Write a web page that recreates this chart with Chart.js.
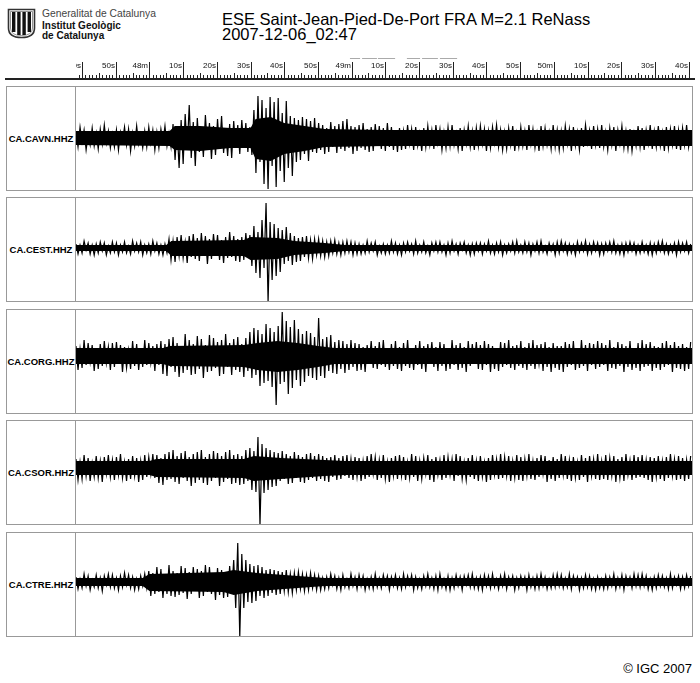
<!DOCTYPE html>
<html lang="ca">
<head>
<meta charset="UTF-8">
<title>ESE Saint-Jean-Pied-De-Port FRA M=2.1 ReNass</title>
<script src="https://cdn.jsdelivr.net/npm/chart.js"></script>
<style>
  body { margin:0; width:700px; height:683px; background:#fff; position:relative; overflow:hidden;
         font-family:"Liberation Sans", Arial, sans-serif; }
  .abs { position:absolute; white-space:nowrap; }
  .panel { position:absolute; left:6px; width:687px; height:105px; box-sizing:border-box; border:1px solid #999; }
  .lbl { position:absolute; left:0; top:0; width:69px; height:103px; box-sizing:border-box; border-right:1px solid #999;
         display:flex; align-items:center; justify-content:center; font-size:9.5px; font-weight:bold; }
  canvas { position:absolute; }
</style>
</head>
<body>
<script>
// seconds after 02:47:00
const timeMin = 38.2, timeMax = 221;

// ruler ticks (every 10 s) and their labels
const rulerTicks  = [40, 50, 60, 70, 80, 90, 100, 110, 120, 130, 140, 150, 160, 170, 180, 190, 200, 210, 220];
const rulerLabels = ['40s','50s','48m','10s','20s','30s','40s','50s','49m','10s','20s','30s','40s','50s','50m','10s','20s','30s','40s'];
// small grey marks above the ruler [from, to]
const pickMarks = [[119.5,122.5],[123.1,127.5],[127.8,132.9],[136.4,140.3],[140.9,145.6],[146.2,151.3]];

const stationNames = ['CA.CAVN.HHZ','CA.CEST.HHZ','CA.CORG.HHZ','CA.CSOR.HHZ','CA.CTRE.HHZ'];

// traces: one sample every 0.6 s from timeMin
const waveStep = 0.6;
const cavnWave = [
  6,-9,11,-4,8,-12,3,-7,10,-8,5,-11,9,-6,13,-5,7,-10,4,-9,
  8,-12,6,-3,11,-7,9,-13,5,-8,12,-6,4,-10,7,-9,11,-5,8,-12,
  6,-10,9,-4,12,-8,5,-9,14,-22,10,-30,18,-26,24,-12,33,-20,16,-28,
  20,-14,11,-19,23,-9,15,-21,12,-17,19,-11,22,-15,9,-18,14,-20,17,-10,
  13,-16,18,-9,15,-14,11,-17,28,-35,42,-24,38,-46,30,-51,41,-28,36,-49,
  40,-33,25,-44,37,-30,22,-38,20,-24,18,-22,21,-16,19,-23,17,-14,20,-15,
  15,-12,13,-16,10,-14,16,-9,12,-15,14,-11,17,-13,19,-10,12,-16,11,-13,
  13,-10,15,-12,9,-14,11,-13,14,-8,12,-11,10,-13,15,-9,11,-12,8,-14,
  10,-12,7,-11,13,-6,9,-12,11,-8,5,-13,10,-9,12,-7,8,-11,13,-5,
  9,-12,6,-10,11,-8,13,-7,5,-11,10,-13,8,-6,12,-9,7,-12,10,-8,
  12,-6,9,-13,7,-10,11,-5,13,-9,8,-12,6,-11,10,-7,12,-13,5,-9,
  11,-8,7,-12,13,-6,9,-10,5,-13,12,-8,10,-7,6,-11,13,-9,8,-12,
  7,-10,12,-6,9,-13,11,-8,6,-12,10,-9,13,-5,8,-11,12,-7,9,-10,
  13,-9,6,-12,10,-7,11,-13,8,-6,12,-10,7,-11,9,-13,5,-8,12,-9,
  10,-12,8,-6,13,-11,7,-9,12,-8,6,-13,11,-10,9,-7,12,-11,8,-12,
  10,-7,13,-9,6];
const cestWave = [
  4,-6,3,-5,7,-2,5,-6,3,-7,4,-5,6,-3,5,-7,2,-5,6,-4,
  5,-7,3,-4,6,-5,2,-6,7,-3,5,-4,6,-7,3,-5,4,-6,7,-3,
  5,-6,3,-7,4,-5,9,-12,7,-14,11,-8,13,-10,6,-15,12,-9,14,-11,
  10,-13,15,-8,12,-16,9,-11,14,-7,13,-12,8,-15,11,-10,16,-9,12,-13,
  9,-14,11,-12,15,-8,13,-18,22,-25,16,-30,28,-20,45,-54,26,-32,24,-28,
  20,-24,18,-16,21,-13,15,-17,12,-14,10,-13,11,-9,12,-10,8,-11,9,-7,
  9,-8,7,-9,6,-8,7,-5,8,-6,5,-7,6,-5,7,-4,6,-7,5,-6,
  4,-6,3,-5,7,-4,5,-3,6,-7,2,-5,4,-6,3,-5,7,-4,5,-6,
  3,-7,5,-4,6,-3,4,-6,7,-5,3,-4,6,-5,2,-7,5,-3,6,-4,
  6,-4,3,-7,5,-5,7,-3,4,-6,5,-2,6,-5,3,-7,4,-6,5,-3,
  5,-6,4,-3,7,-5,3,-6,5,-4,6,-7,3,-5,4,-3,6,-5,7,-4,
  3,-5,6,-4,5,-7,4,-3,6,-5,7,-4,2,-6,5,-3,4,-7,6,-5,
  7,-3,5,-6,4,-5,3,-7,6,-4,5,-3,7,-6,4,-5,6,-3,5,-7,
  4,-6,5,-3,6,-4,7,-5,3,-6,4,-7,5,-4,6,-3,5,-6,3,-5,
  6,-4,3,-6,5,-7,4,-5,6,-3,7,-5,4,-6,3,-4,5,-7,6,-4,
  5,-3,6,-5,4];
const corgWave = [
  10,-14,7,-12,16,-9,13,-6,11,-15,8,-13,12,-10,15,-7,9,-14,13,-11,
  14,-8,11,-16,9,-12,6,-13,15,-10,12,-14,8,-11,16,-9,13,-7,10,-15,
  12,-9,15,-18,12,-20,17,-11,19,-16,13,-21,10,-17,22,-14,16,-19,12,-18,
  20,-13,17,-22,11,-16,21,-15,18,-12,14,-20,16,-18,22,-11,13,-19,17,-14,
  19,-16,12,-21,18,-15,24,-22,28,-19,26,-30,22,-27,32,-25,28,-31,24,-49,
  30,-28,44,-26,35,-38,29,-32,36,-24,27,-30,22,-26,25,-20,23,-22,19,-24,
  38,-20,17,-22,19,-15,21,-17,14,-18,16,-13,15,-17,12,-14,16,-11,13,-15,
  12,-14,9,-16,11,-8,15,-12,10,-13,14,-9,16,-11,8,-14,12,-10,15,-13,
  9,-15,13,-10,16,-12,8,-14,11,-9,15,-13,10,-16,12,-8,14,-11,9,-15,
  14,-10,12,-15,8,-13,16,-9,11,-14,13,-12,9,-16,15,-10,12,-8,14,-13,
  11,-14,15,-9,12,-16,10,-13,8,-15,14,-11,13,-9,16,-12,10,-14,11,-10,
  15,-12,9,-14,13,-10,16,-13,11,-8,12,-15,14,-11,9,-16,13,-12,10,-14,
  10,-16,14,-11,12,-9,15,-14,8,-12,16,-10,11,-15,13,-9,12,-13,15,-11,
  13,-9,11,-15,16,-12,9,-13,14,-10,12,-16,10,-11,15,-14,8,-12,13,-15,
  16,-11,12,-10,14,-15,10,-12,9,-14,13,-11,15,-9,11,-16,14,-12,10,-13,
  12,-15,9,-13,14];
const csorWave = [
  9,-12,6,-11,13,-8,10,-13,5,-9,12,-10,7,-14,11,-6,13,-9,8,-12,
  11,-7,14,-10,6,-13,9,-11,12,-8,10,-14,7,-12,13,-9,11,-6,14,-10,
  13,-15,10,-17,14,-12,16,-11,18,-14,12,-16,15,-10,17,-13,11,-18,14,-15,
  16,-12,18,-15,11,-17,14,-13,17,-10,15,-18,12,-14,16,-11,18,-16,13,-15,
  14,-17,12,-16,18,-13,20,-22,17,-24,31,-57,24,-25,20,-22,18,-19,16,-18,
  15,-13,17,-11,14,-16,12,-15,16,-10,13,-14,11,-15,14,-12,15,-10,12,-13,
  14,-11,12,-13,10,-14,11,-9,13,-12,10,-11,12,-8,13,-10,9,-12,11,-9,
  10,-13,7,-11,12,-9,14,-6,11,-12,8,-10,13,-11,6,-14,10,-8,12,-11,
  13,-8,11,-12,6,-10,14,-9,12,-13,7,-11,10,-6,13,-12,9,-14,11,-7,
  8,-12,13,-10,11,-7,9,-13,14,-8,12,-11,6,-12,10,-9,13,-11,7,-13,
  12,-9,6,-14,10,-12,13,-7,9,-11,14,-10,11,-8,12,-13,7,-10,13,-12,
  11,-13,9,-8,14,-11,7,-12,10,-9,13,-6,12,-14,8,-11,11,-13,9,-10,
  14,-7,12,-11,8,-13,11,-10,6,-12,13,-9,10,-14,12,-8,9,-11,14,-12,
  7,-11,13,-12,10,-8,12,-14,9,-10,11,-13,14,-7,8,-12,13,-10,11,-9,
  13,-10,8,-12,11,-14,10,-9,12,-11,7,-13,11,-10,14,-8,9,-12,12,-11,
  10,-13,8,-11,12];
const ctreWave = [
  5,-7,3,-6,8,-4,6,-8,2,-5,7,-6,4,-9,6,-3,8,-5,7,-6,
  4,-8,6,-5,9,-3,7,-6,5,-8,3,-7,6,-4,8,-6,11,-14,9,-12,
  15,-10,13,-16,8,-12,17,-14,11,-15,9,-13,16,-11,14,-17,10,-12,15,-9,
  13,-16,11,-14,17,-10,15,-12,9,-18,14,-13,12,-16,10,-15,16,-11,22,-26,
  39,-55,28,-26,22,-20,18,-21,16,-19,17,-14,15,-16,12,-14,13,-11,12,-13,
  11,-12,10,-9,12,-10,8,-11,9,-8,10,-7,8,-9,7,-8,9,-6,7,-8,
  6,-8,4,-7,5,-6,8,-3,6,-7,4,-8,7,-5,3,-6,8,-4,5,-7,
  7,-4,6,-8,3,-6,5,-7,8,-5,4,-6,7,-3,6,-8,5,-4,7,-6,
  4,-7,8,-5,6,-3,7,-8,5,-6,3,-7,6,-4,8,-5,4,-7,6,-8,
  8,-5,3,-7,6,-8,4,-6,7,-4,5,-8,6,-3,7,-5,8,-6,4,-7,
  5,-8,7,-4,6,-6,8,-5,3,-7,6,-4,8,-7,5,-3,6,-8,4,-6,
  6,-3,5,-8,7,-5,4,-7,6,-6,8,-4,5,-7,3,-6,7,-5,8,-4,
  7,-6,4,-5,8,-7,6,-3,5,-8,4,-6,7,-5,6,-7,3,-8,5,-6,
  3,-7,6,-6,5,-4,8,-7,4,-5,7,-8,6,-3,5,-6,8,-4,7,-5,
  8,-4,6,-7,3,-8,5,-6,7,-4,6,-5,4,-7,8,-6,5,-3,6,-7,
  5,-6,7,-4,6];

// dense core of each trace (upper / lower envelope)
const cavnEnvT   = [38.2, 66, 67.5, 75, 84, 90, 91.5, 96, 100, 106, 112, 130, 221];
const cavnEnvTop = [7, 7, 12, 12, 10, 10, 19, 21, 15, 12, 9, 8, 8];
const cavnEnvBot = [-7, -8, -12, -13, -10, -10, -21, -23, -16, -13, -9, -8, -8];
const cestEnvT   = [38.2, 65, 66.5, 88, 90, 98, 103, 112, 118, 221];
const cestEnvTop = [3, 3, 7, 8, 11, 10, 7, 5, 3, 3];
const cestEnvBot = [-3, -3, -8, -8, -12, -11, -7, -5, -3, -3];
const corgEnvT   = [38.2, 64, 66, 88, 92, 98, 104, 110, 115, 221];
const corgEnvTop = [8, 8, 10, 11, 13, 15, 13, 10, 8, 8];
const corgEnvBot = [-8, -8, -10, -11, -14, -16, -14, -11, -8, -8];
const csorEnvT   = [38.2, 60, 62, 88, 91, 99, 112, 118, 221];
const csorEnvTop = [7, 7, 9, 9, 12, 10, 8, 7, 7];
const csorEnvBot = [-7, -7, -9, -10, -13, -11, -8, -7, -7];
const ctreEnvT   = [38.2, 58, 60, 82, 85, 92, 104, 112, 221];
const ctreEnvTop = [4, 4, 8, 10, 12, 9, 6, 4, 4];
const ctreEnvBot = [-4, -4, -9, -10, -13, -9, -6, -4, -4];

const waves  = [cavnWave, cestWave, corgWave, csorWave, ctreWave];
const envT   = [cavnEnvT, cestEnvT, corgEnvT, csorEnvT, ctreEnvT];
const envTop = [cavnEnvTop, cestEnvTop, corgEnvTop, csorEnvTop, ctreEnvTop];
const envBot = [cavnEnvBot, cestEnvBot, corgEnvBot, csorEnvBot, ctreEnvBot];

// layout
const panelTops = [86, 197, 309, 420, 532];
const baselines = [138, 248, 356, 468, 582];
</script>

<!-- header -->
<svg class="abs" style="left:7px;top:8px" width="29" height="31" viewBox="0 0 29 31">
  <path d="M1.5 1.5 H27.5 V20 Q27.5 29.5 14.5 29.5 Q1.5 29.5 1.5 20 Z" fill="#fff" stroke="#333" stroke-width="1.6"/>
  <path d="M3.5 3.5 H25.5 V20 Q25.5 27.5 14.5 27.5 Q3.5 27.5 3.5 20 Z" fill="none" stroke="#777" stroke-width="0.8"/>
  <rect x="5" y="4" width="3.4" height="20" fill="#111"/>
  <rect x="10.2" y="4" width="3.4" height="23" fill="#111"/>
  <rect x="15.4" y="4" width="3.4" height="23" fill="#111"/>
  <rect x="20.6" y="4" width="3.4" height="20" fill="#111"/>
</svg>
<div class="abs" style="left:42px;top:9.3px;font-size:10.3px;line-height:10.3px;color:#444">Generalitat de Catalunya</div>
<div class="abs" style="left:42px;top:20.5px;font-size:10px;line-height:10px;font-weight:bold;color:#111">Institut Geològic</div>
<div class="abs" style="left:42px;top:30.5px;font-size:10px;line-height:10px;font-weight:bold;color:#111">de Catalunya</div>
<div class="abs" style="left:222px;top:11px;font-size:16.5px;line-height:16.5px;color:#000">ESE Saint-Jean-Pied-De-Port FRA M=2.1 ReNass</div>
<div class="abs" style="left:222px;top:26px;font-size:16.5px;line-height:16.5px;color:#000">2007-12-06_02:47</div>

<canvas id="ruler" width="616" height="28" style="left:76px;top:50px"></canvas>
<div class="abs" style="left:5px;top:78px;width:690px;height:2px;background:#222"></div>

<div id="panels"></div>

<div class="abs" style="right:8px;top:662px;font-size:13px;line-height:13px;color:#000">© IGC 2007</div>

<script>
const rulerPlugin = {
  id: 'ruler',
  afterDraw(chart) {
    const ctx = chart.ctx, sx = chart.scales.x, base = chart.chartArea.bottom;
    ctx.save();
    ctx.strokeStyle = '#222';
    ctx.lineWidth = 1;
    for (let s = Math.ceil(sx.min); s <= sx.max; s++) {
      const px = Math.round(sx.getPixelForValue(s)) + 0.5;
      const len = rulerTicks.includes(s) ? 16 : (s % 5 === 0 ? 5 : 3);
      ctx.beginPath();
      ctx.moveTo(px, base);
      ctx.lineTo(px, base - len);
      ctx.stroke();
    }
    ctx.font = '8px "Liberation Sans", Arial, sans-serif';
    ctx.textAlign = 'right';
    ctx.fillStyle = '#111';
    rulerTicks.forEach((s, i) => {
      ctx.fillText(rulerLabels[i], Math.round(sx.getPixelForValue(s)) - 1, base - 10);
    });
    ctx.strokeStyle = '#aaa';
    pickMarks.forEach(([a, b]) => {
      ctx.beginPath();
      ctx.moveTo(sx.getPixelForValue(a), 8.5);
      ctx.lineTo(sx.getPixelForValue(b), 8.5);
      ctx.stroke();
    });
    ctx.restore();
  }
};

new Chart(document.getElementById('ruler'), {
  type: 'line',
  data: { datasets: [] },
  options: {
    responsive: false, animation: false, events: [],
    layout: { padding: 0 },
    plugins: { legend: { display: false }, tooltip: { enabled: false } },
    scales: {
      x: { type: 'linear', min: timeMin, max: timeMax, display: false },
      y: { min: 0, max: 1, display: false }
    }
  },
  plugins: [rulerPlugin]
});

const holder = document.getElementById('panels');
stationNames.forEach((name, k) => {
  const top = panelTops[k];
  const box = document.createElement('div');
  box.className = 'panel';
  box.style.top = top + 'px';
  box.innerHTML = '<div class="lbl">' + name + '</div>';
  holder.appendChild(box);

  const cv = document.createElement('canvas');
  cv.width = 616; cv.height = 103;
  cv.style.left = '76px';
  cv.style.top = (top + 1) + 'px';
  holder.appendChild(cv);

  const yMax = baselines[k] - (top + 1);
  const yMin = -((top + 104) - baselines[k]);

  new Chart(cv, {
    type: 'line',
    data: {
      datasets: [
        { data: envT[k].map((t, i) => ({ x: t, y: envTop[k][i] })),
          borderColor: '#000', backgroundColor: '#000', borderWidth: 0, pointRadius: 0, fill: '+1' },
        { data: envT[k].map((t, i) => ({ x: t, y: envBot[k][i] })),
          borderColor: '#000', borderWidth: 0, pointRadius: 0, fill: false },
        { data: waves[k].map((v, i) => ({ x: timeMin + i * waveStep, y: v })),
          borderColor: '#000', borderWidth: 1.2, pointRadius: 0, fill: false, tension: 0 }
      ]
    },
    options: {
      responsive: false, animation: false, events: [],
      layout: { padding: 0 },
      plugins: { legend: { display: false }, tooltip: { enabled: false } },
      scales: {
        x: { type: 'linear', min: timeMin, max: timeMax, display: false },
        y: { min: yMin, max: yMax, display: false }
      }
    }
  });
});
</script>
</body>
</html>
